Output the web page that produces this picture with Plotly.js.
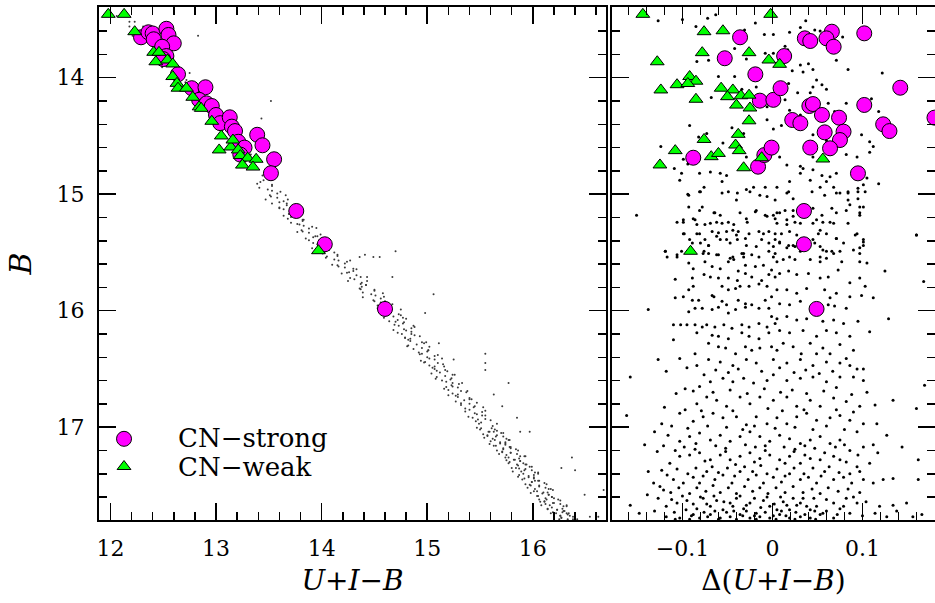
<!DOCTYPE html>
<html><head><meta charset="utf-8">
<script src="https://cdn.plot.ly/plotly-3.0.1.min.js"></script>
<style>html,body{margin:0;padding:0;background:#fff}#chart{width:935px;height:603px}</style>
</head><body><div id="chart"></div>
<script>
// ---- Left panel (CMD): CN-strong stars [U+I-B, B]
const cmdStrong = [[12.29,13.653],[12.36,13.61],[12.40,13.62],[12.41,13.67],[12.53,13.58],[12.55,13.633],[12.60,13.705],[12.49,13.734],[12.53,13.814],[12.50,13.84],[12.64,13.97],[12.77,14.09],[12.90,14.082],[12.84,14.19],[12.91,14.22],[12.96,14.243],[13.00,14.32],[13.04,14.39],[13.13,14.34],[13.15,14.42],[13.18,14.458],[13.39,14.49],[13.44,14.58],[13.21,14.55],[13.27,14.60],[13.23,14.66],[13.55,14.70],[13.52,14.82],[13.76,15.144],[14.03,15.43],[14.60,15.985]];
// CN-weak stars [U+I-B, B]
const cmdWeak = [[11.98,13.456],[12.13,13.456],[12.23,13.605],[12.41,13.782],[12.46,13.782],[12.43,13.863],[12.54,13.848],[12.59,13.882],[12.59,13.99],[12.63,14.048],[12.64,14.09],[12.72,14.09],[12.78,14.168],[12.84,14.25],[12.86,14.263],[12.96,14.374],[13.05,14.50],[13.03,14.62],[13.14,14.595],[13.21,14.62],[13.23,14.668],[13.30,14.69],[13.38,14.70],[13.25,14.75],[13.35,14.767],[13.97,15.485],[13.16,14.535]];
// field stars along the sequence [U+I-B, B]
const cmdField = [[12.06,13.47],[12.18,13.52],[12.18,13.56],[12.28,13.60],[12.21,13.64],[12.34,13.69],[12.42,13.73],[12.38,13.78],[12.45,13.82],[12.53,13.87],[12.49,13.91],[12.60,13.95],[12.61,14.00],[12.71,14.04],[12.65,14.09],[12.77,14.13],[12.87,14.18],[12.82,14.22],[12.90,14.27],[12.98,14.31],[12.94,14.36],[13.05,14.40],[13.06,14.45],[13.17,14.50],[13.11,14.55],[13.24,14.60],[13.33,14.66],[13.28,14.72],[13.36,14.78],[13.44,14.84],
[13.45,14.88],[13.39,14.91],[13.53,14.93],[13.49,14.96],[13.61,14.98],[13.51,15.01],[13.58,15.03],[13.64,15.06],[13.53,15.08],[13.71,15.11],[13.64,15.13],[13.71,15.16],[13.74,15.18],[13.68,15.21],[13.82,15.23],[13.79,15.26],[13.91,15.28],[13.81,15.31],[13.88,15.33],[13.96,15.36],[13.85,15.38],[14.03,15.41],[13.96,15.43],[14.04,15.46],[14.07,15.48],[14.01,15.51],[14.15,15.53],[14.12,15.56],[14.24,15.58],[14.15,15.61],[14.22,15.63],[14.30,15.66],[14.19,15.68],[14.37,15.71],[14.31,15.73],[14.38,15.76],[14.42,15.78],[14.36,15.81],[14.50,15.83],[14.47,15.86],[14.59,15.88],[14.49,15.91],[14.56,15.93],[14.64,15.96],[14.53,15.98],
[13.42,14.895],[13.53,14.92],[13.41,14.945],[13.53,14.97],[13.58,14.995],[13.52,15.02],[13.68,15.045],[13.60,15.07],[13.67,15.095],[13.60,15.12],[13.76,15.145],[13.69,15.17],[13.71,15.195],[13.82,15.22],[13.71,15.245],[13.83,15.27],[13.88,15.295],[13.82,15.32],[13.99,15.345],[13.92,15.37],[13.98,15.395],[13.92,15.42],[14.08,15.445],[14.02,15.47],[14.03,15.495],[14.15,15.52],[14.04,15.545],[14.16,15.57],[14.22,15.595],[14.16,15.62],[14.33,15.645],[14.26,15.67],[14.33,15.695],[14.27,15.72],[14.43,15.745],[14.37,15.77],[14.38,15.795],[14.50,15.82],[14.39,15.845],[14.51,15.87],[14.56,15.895],[14.50,15.92],[14.67,15.945],[14.60,15.97],[14.66,15.995],
[14.60,16.01],[14.73,16.03],[14.68,16.05],[14.80,16.07],[14.64,16.09],[14.77,16.11],[14.73,16.13],[14.85,16.15],[14.80,16.17],[14.72,16.19],[14.88,16.21],[14.79,16.23],[14.82,16.25],[14.95,16.27],[14.90,16.29],[15.02,16.31],[14.87,16.33],[15.00,16.35],[14.95,16.37],[15.07,16.39],[15.02,16.41],[14.94,16.43],[15.10,16.45],[15.02,16.47],[15.05,16.49],[15.17,16.51],[15.12,16.53],[15.24,16.55],[15.09,16.57],[15.22,16.59],[15.18,16.61],[15.30,16.63],[15.24,16.65],[15.16,16.67],[15.32,16.69],[15.24,16.71],[15.27,16.73],[15.40,16.75],[15.35,16.77],[15.47,16.79],[15.32,16.81],[15.44,16.83],[15.40,16.85],[15.52,16.87],[15.47,16.89],[15.39,16.91],[15.55,16.93],[15.46,16.95],[15.49,16.97],[15.62,16.99],
[14.62,16.02],[14.75,16.04],[14.59,16.06],[14.72,16.08],[14.78,16.10],[14.69,16.12],[14.88,16.14],[14.78,16.16],[14.85,16.18],[14.76,16.20],[14.93,16.22],[14.84,16.24],[14.84,16.26],[14.97,16.28],[14.82,16.30],[14.95,16.32],[15.01,16.34],[14.92,16.36],[15.10,16.38],[15.00,16.40],[15.07,16.42],[14.98,16.44],[15.15,16.46],[15.07,16.48],[15.07,16.50],[15.19,16.52],[15.04,16.54],[15.17,16.56],[15.23,16.58],[15.14,16.60],[15.33,16.62],[15.23,16.64],[15.29,16.66],[15.20,16.68],[15.37,16.70],[15.29,16.72],[15.29,16.74],[15.42,16.76],[15.27,16.78],[15.40,16.80],[15.45,16.82],[15.36,16.84],[15.55,16.86],[15.45,16.88],[15.52,16.90],[15.43,16.92],[15.60,16.94],[15.51,16.96],
[15.61,17.01],[15.50,17.02],[15.66,17.03],[15.59,17.04],[15.72,17.05],[15.57,17.07],[15.65,17.08],[15.54,17.09],[15.75,17.10],[15.64,17.11],[15.74,17.13],[15.69,17.14],[15.74,17.15],[15.63,17.16],[15.79,17.17],[15.72,17.19],[15.86,17.20],[15.71,17.21],[15.79,17.22],[15.68,17.23],[15.88,17.25],[15.77,17.26],[15.87,17.27],[15.82,17.28],[15.88,17.29],[15.77,17.31],[15.93,17.32],[15.86,17.33],[15.99,17.34],[15.84,17.35],[15.92,17.37],[15.81,17.38],[16.02,17.39],[15.91,17.40],[16.01,17.41],[15.96,17.43],[16.01,17.44],[15.90,17.45],[16.06,17.46],[15.99,17.47],[16.13,17.49],[15.98,17.50],[16.06,17.51],[15.95,17.52],[16.15,17.53],[16.04,17.55],[16.14,17.56],[16.09,17.57],[16.15,17.58],[16.04,17.59],[16.20,17.61],[16.13,17.62],[16.26,17.63],[16.11,17.64],[16.19,17.65],[16.08,17.67],[16.29,17.68],[16.18,17.69],[16.28,17.70],[16.23,17.71],[16.28,17.73],[16.17,17.74],[16.33,17.75],[16.26,17.76],[16.40,17.77],[16.25,17.79],[16.33,17.80],
[15.51,17.01],[15.64,17.02],[15.58,17.04],[15.70,17.05],[15.53,17.06],[15.66,17.07],[15.72,17.08],[15.62,17.10],[15.78,17.11],[15.60,17.12],[15.69,17.13],[15.74,17.14],[15.65,17.16],[15.78,17.17],[15.72,17.18],[15.84,17.19],[15.66,17.20],[15.79,17.22],[15.85,17.23],[15.75,17.24],[15.92,17.25],[15.74,17.26],[15.83,17.28],[15.88,17.29],[15.78,17.30],[15.91,17.31],[15.85,17.32],[15.97,17.34],[15.80,17.35],[15.93,17.36],[15.99,17.37],[15.89,17.38],[16.05,17.40],[15.87,17.41],[15.96,17.42],[16.01,17.43],[15.92,17.44],[16.05,17.46],[15.99,17.47],[16.11,17.48],[15.93,17.49],[16.06,17.50],[16.12,17.52],[16.02,17.53],[16.19,17.54],[16.01,17.55],[16.10,17.56],[16.15,17.58],[16.05,17.59],[16.18,17.60],[16.12,17.61],[16.24,17.62],[16.07,17.64],[16.20,17.65],[16.26,17.66],[16.16,17.67],[16.32,17.68],[16.14,17.70],[16.23,17.71],[16.29,17.72],[16.19,17.73],[16.32,17.74],[16.26,17.76],[16.38,17.77],[16.20,17.78],[16.33,17.79],
[13.66,15.01],[13.47,15.045],[13.67,15.08],[13.60,15.115],[13.81,15.15],[13.64,15.185],[13.83,15.22],[13.77,15.255],[13.95,15.29],[13.77,15.325],[13.94,15.36],[13.88,15.395],[14.09,15.43],[13.91,15.465],[14.12,15.50],[14.05,15.535],[14.27,15.57],[14.10,15.605],[14.30,15.64],[14.24,15.675],[14.43,15.71],[14.25,15.745],[14.42,15.78],[14.37,15.815],[14.58,15.85],[14.39,15.885],[14.60,15.92],[14.53,15.955],[14.75,15.99],[14.57,16.025],[14.77,16.06],[14.70,16.095],[14.87,16.13],[14.68,16.165],[14.85,16.20],[14.79,16.235],[14.99,16.27],[14.81,16.305],[15.01,16.34],[14.93,16.375],[15.14,16.41],[14.97,16.445],[15.16,16.48],[15.09,16.515],[15.26,16.55],[15.08,16.585],[15.24,16.62],[15.18,16.655],[15.38,16.69],[15.20,16.725],[15.40,16.76],[15.32,16.795],[15.53,16.83],[15.36,16.865],[15.55,16.90],[15.48,16.935],[15.66,16.97],[15.47,17.005],[15.63,17.04],[15.57,17.075],[15.77,17.11],[15.59,17.145],[15.79,17.18],[15.71,17.215],[15.93,17.25],[15.75,17.285],[15.94,17.32],[15.87,17.355],[16.05,17.39],[15.86,17.425],[16.02,17.46],[15.97,17.495],[16.17,17.53],[15.98,17.565],[16.18,17.60],[16.11,17.635],[16.32,17.67],[16.14,17.705],[16.34,17.74],[16.27,17.775],
[12.83,13.64],[13.52,14.20],[13.43,14.35],[14.70,15.49],[14.41,15.52],[14.49,15.54],[14.36,15.54],[14.55,15.54],[14.67,15.71],[15.06,15.86],[14.98,16.02],[15.11,16.28],[15.25,16.42],[15.55,16.37],[15.55,16.45],[15.55,16.51],[15.77,16.62],[15.63,16.72],[15.71,16.82],[15.88,17.04],[15.97,17.04],[15.85,16.92],[16.37,17.26],[16.40,17.37],[16.27,17.35],[16.49,17.58],[16.67,17.54],[16.54,17.77],[16.62,17.77],[12.23,13.52],[12.31,13.56],[12.75,13.96],[12.72,14.02],
[16.30,17.72],[16.35,17.76],[16.38,17.79],[16.42,17.79],[16.27,17.78],[16.22,17.74],[16.12,17.66],[16.06,17.62]];

// ---- Right panel: Delta(U+I-B) vs B
const deltaStrong = [[-0.036,13.653],[-0.053,13.833],[-0.019,13.971],[-0.014,14.197],[0.001,14.19],[-0.088,14.687],[-0.016,14.764],[-0.009,14.664],[-0.001,14.60],[0.013,13.814],[0.009,14.09],[0.036,13.662],[0.042,13.685],[0.066,13.605],[0.060,13.662],[0.068,13.734],[0.102,13.619],[0.142,14.086],[0.102,14.234],[0.180,14.343],[0.041,14.243],[0.045,14.226],[0.055,14.32],[0.074,14.343],[0.022,14.363],[0.031,14.391],[0.058,14.469],[0.079,14.463],[0.075,14.535],[0.042,14.60],[0.064,14.606],[0.123,14.40],[0.130,14.458],[0.095,14.821],[0.035,15.144],[0.035,15.43],[0.049,15.985]];
const deltaWeak = [[-0.144,13.456],[-0.002,13.456],[-0.076,13.605],[-0.055,13.597],[-0.078,13.785],[-0.128,13.863],[-0.026,13.785],[-0.004,13.848],[-0.092,13.99],[-0.106,14.06],[-0.085,14.03],[-0.094,14.05],[-0.124,14.105],[-0.085,14.185],[-0.057,14.09],[-0.044,14.105],[-0.050,14.163],[-0.035,14.155],[-0.026,14.15],[-0.040,14.235],[-0.025,14.26],[-0.026,14.37],[-0.038,14.486],[-0.076,14.53],[-0.108,14.626],[-0.041,14.578],[-0.037,14.626],[-0.068,14.678],[-0.060,14.65],[-0.125,14.749],[-0.032,14.773],[-0.012,14.687],[0.008,13.885],[0.056,14.698],[-0.091,15.49]];
const deltaField = [[-0.127,13.51],[-0.100,13.50],[-0.072,13.49],[-0.063,13.46],[-0.031,13.59],[-0.019,13.53],[-0.009,13.63],[0.001,13.63],[0.019,13.61],[0.031,13.57],[0.037,13.51],[0.047,13.59],[0.053,13.60],[0.078,13.65],[-0.085,13.56],[-0.042,13.75],[-0.029,13.84],[0.014,13.73],[0.017,13.76],[0.012,13.79],[-0.084,13.86],[-0.071,13.85],[-0.050,13.83],[-0.060,13.99],[-0.042,13.99],[-0.008,13.79],[0.001,13.79],[0.031,13.89],[0.022,13.94],[0.034,13.95],[0.045,13.93],[0.040,13.88],[0.049,14.02],[0.055,14.06],[0.060,14.10],[0.071,13.85],[0.084,13.93],[0.122,13.96],[-0.068,14.17],[-0.049,14.12],[-0.034,14.10],[-0.018,14.08],[-0.006,14.25],[0.001,14.16],[0.014,14.19],[0.028,14.13],[0.018,14.05],[0.042,14.13],[0.045,14.08],[0.051,14.22],[0.062,14.22],[0.069,14.29],[0.082,14.22],[0.110,14.18],[0.118,14.29],[0.099,14.49],[0.108,14.55],[0.112,14.59],[0.108,14.64],[0.082,14.66],[0.094,14.68],[-0.092,14.41],[-0.082,14.51],[-0.073,14.48],[-0.055,14.56],[-0.045,14.43],[-0.032,14.48],[-0.006,14.36],[0.001,14.44],[0.010,14.41],[0.019,14.28],[0.031,14.32],[0.038,14.56],[0.045,14.49],[0.053,14.44],[0.060,14.54],[0.068,14.56],[0.045,14.68],[-0.124,14.59],[-0.099,14.70],[-0.094,14.74],[-0.081,14.68],[-0.064,14.68],[-0.029,14.68],[0.008,14.68],[0.016,14.75],[0.031,14.76],[0.034,14.78],[0.045,14.79],[0.055,14.84],[0.064,14.85],[0.071,14.82],[-0.125,14.76],[-0.109,14.78],[-0.101,14.82],[-0.081,14.82],[-0.069,14.81],[-0.058,14.82],[-0.051,14.84],[-0.103,14.88],[-0.076,14.94],[-0.081,14.98],[-0.094,15.00],[-0.056,14.89],[-0.049,14.98],[-0.040,15.05],[-0.029,14.96],[-0.021,14.94],[-0.014,15.01],[-0.008,14.94],[0.005,14.94],[0.019,14.89],[0.016,14.99],[0.023,15.04],[0.031,14.82],[0.042,14.88],[0.053,14.94],[0.060,14.89],[0.068,14.94],[0.075,14.99],[0.084,14.98],[0.095,14.95],[0.101,14.92],[0.105,14.86],[0.118,14.91],[0.095,15.04],[0.084,15.05],
[-0.151,15.18],[-0.106,15.24],[-0.099,15.22],[-0.088,15.21],[-0.084,15.26],[-0.064,15.16],[-0.056,15.25],[-0.044,15.31],[-0.036,15.16],[-0.029,15.21],[-0.018,15.14],[-0.006,15.19],[0.001,15.18],[0.008,15.16],[0.016,15.22],[0.023,15.19],[0.031,15.25],[0.038,15.16],[0.049,15.22],[0.053,15.31],[0.064,15.24],[0.071,15.16],[0.082,15.14],[0.097,15.16],[0.101,15.11],[-0.099,15.34],[-0.092,15.39],[-0.081,15.34],[-0.071,15.44],[-0.062,15.36],[-0.051,15.39],[-0.040,15.35],[-0.029,15.44],[-0.018,15.45],[-0.010,15.34],[0.001,15.45],[0.008,15.41],[0.016,15.46],[0.023,15.44],[0.031,15.49],[0.045,15.39],[0.053,15.45],[0.060,15.49],[0.071,15.38],[0.079,15.42],[0.094,15.34],[0.101,15.41],[0.160,15.35],[-0.119,15.49],[-0.106,15.52],[-0.077,15.51],[-0.062,15.52],[-0.044,15.54],[-0.032,15.51],[0.001,15.54],[0.019,15.54],[0.053,15.54],[0.068,15.51],[0.097,15.46],
[-0.093,15.01],[-0.080,14.98],[-0.056,14.99],[-0.039,14.99],[-0.025,14.98],[-0.006,15.02],[-0.093,15.11],[-0.081,15.14],[-0.078,15.11],[-0.065,15.16],[-0.058,15.18],[-0.099,15.24],[-0.086,15.22],[-0.075,15.26],[-0.069,15.25],[-0.062,15.24],[-0.049,15.24],[-0.043,15.26],[-0.028,15.24],[-0.019,15.15],[-0.008,15.18],[0.003,15.21],[-0.098,15.34],[-0.084,15.34],[-0.067,15.32],[-0.060,15.33],[-0.051,15.32],[-0.038,15.32],[-0.026,15.34],[-0.015,15.32],[-0.004,15.32],[0.003,15.34],[-0.089,15.42],[-0.080,15.42],[-0.075,15.39],[-0.071,15.44],[-0.058,15.39],[-0.047,15.42],[-0.039,15.39],[-0.030,15.38],[-0.012,15.39],[-0.004,15.42],[0.003,15.39],[-0.119,15.49],[-0.117,15.54],[-0.106,15.54],[-0.101,15.49],[-0.076,15.49],[-0.071,15.51],[-0.060,15.52],[-0.047,15.55],[-0.034,15.51],[-0.032,15.54],[-0.023,15.52],[-0.015,15.54],[-0.004,15.49],[0.003,15.51],
[-0.093,15.59],[-0.088,15.64],[-0.075,15.58],[-0.067,15.62],[-0.058,15.64],[-0.049,15.58],[-0.043,15.56],[-0.038,15.66],[-0.030,15.61],[-0.019,15.62],[-0.010,15.61],[-0.001,15.65],[-0.108,15.73],[-0.089,15.72],[-0.076,15.69],[-0.069,15.71],[-0.060,15.72],[-0.049,15.72],[-0.039,15.74],[-0.030,15.68],[-0.023,15.71],[-0.012,15.74],[-0.004,15.69],[0.003,15.71],[-0.093,15.82],[-0.088,15.79],[-0.067,15.87],[-0.056,15.79],[-0.049,15.82],[-0.041,15.81],[-0.036,15.79],[-0.026,15.79],[-0.015,15.77],[-0.006,15.79],[-0.108,15.89],[-0.099,15.88],[-0.089,15.91],[-0.082,15.91],[-0.065,15.88],[-0.056,15.92],[-0.051,15.95],[-0.038,15.91],[-0.030,15.94],[-0.023,15.95],[-0.008,15.91],[-0.001,15.88],[-0.138,15.99],[-0.093,16.01],[-0.086,15.98],[-0.078,15.98],[-0.067,15.99],[-0.060,15.97],[-0.049,16.02],[-0.041,15.99],[-0.030,15.97],[-0.015,15.98],[-0.004,15.98],[-0.001,16.05],[-0.110,16.12],[-0.102,16.12],[-0.095,16.12],[-0.086,16.12],[-0.078,16.14],[-0.073,16.12],[-0.064,16.14],[-0.054,16.12],[-0.045,16.15],[-0.034,16.12],[-0.026,16.14],[-0.015,16.11],[-0.006,16.14],[0.003,16.11],[-0.110,16.25],[-0.084,16.19],[-0.067,16.21],[-0.060,16.22],[-0.049,16.24],[-0.034,16.19],[-0.026,16.22],[-0.015,16.24],[-0.004,16.19],[-0.086,16.37],[-0.071,16.28],[-0.060,16.31],[-0.052,16.32],[-0.041,16.37],[-0.030,16.31],[-0.023,16.34],[-0.014,16.32],[-0.001,16.31],
[0.003,15.05],[0.018,14.98],[0.044,14.98],[0.058,15.01],[0.071,14.99],[0.084,14.99],[0.095,14.98],[0.103,14.98],[0.005,15.16],[0.014,15.14],[0.023,15.14],[0.045,15.12],[0.055,15.18],[0.066,15.12],[0.086,15.09],[0.097,15.11],[0.097,15.18],[0.005,15.25],[0.016,15.26],[0.025,15.24],[0.045,15.25],[0.056,15.24],[0.068,15.25],[0.084,15.25],[0.010,15.34],[0.019,15.32],[0.027,15.35],[0.051,15.34],[0.060,15.34],[0.071,15.38],[0.092,15.35],[0.101,15.39],[0.008,15.42],[0.018,15.44],[0.025,15.45],[0.047,15.42],[0.056,15.48],[0.066,15.49],[0.075,15.49],[0.090,15.48],[0.097,15.51],[0.101,15.44],[0.125,15.66],[0.160,15.35],[0.168,15.75],[0.005,15.58],[0.012,15.56],[0.025,15.56],[0.042,15.56],[0.053,15.58],[0.060,15.55],[0.077,15.58],[0.097,15.58],[0.105,15.59],[0.008,15.68],[0.018,15.66],[0.027,15.69],[0.040,15.68],[0.053,15.72],[0.062,15.71],[0.073,15.65],[0.086,15.76],[0.097,15.72],[0.103,15.79],[0.005,15.82],[0.016,15.82],[0.027,15.85],[0.038,15.81],[0.058,15.82],[0.064,15.89],[0.071,15.85],[0.086,15.88],[0.099,15.87],[0.112,15.89],[0.008,15.94],[0.019,15.95],[0.031,15.92],[0.045,15.95],[0.062,15.95],[0.069,15.96],[0.082,15.98],[0.129,16.07],[0.095,16.09],[0.108,16.18],[0.005,16.07],[0.016,16.05],[0.027,16.08],[0.038,16.07],[0.056,16.09],[0.068,16.08],[0.079,16.11],[0.008,16.17],[0.019,16.19],[0.034,16.17],[0.049,16.22],[0.060,16.17],[0.071,16.19],[0.086,16.22],[0.012,16.28],[0.023,16.31],[0.042,16.28],[0.056,16.32],[0.075,16.29],[0.090,16.34],[0.005,16.34],[0.032,16.37],[0.049,16.37],[0.064,16.37],
[-0.127,16.42],[-0.103,16.41],[-0.084,16.47],[-0.071,16.42],[-0.058,16.44],[-0.044,16.47],[-0.029,16.42],[-0.018,16.45],[0.001,16.42],[0.016,16.45],[0.031,16.42],[0.045,16.47],[0.060,16.44],[0.075,16.45],[0.082,16.41],[0.094,16.50],[0.101,16.50],[-0.158,16.57],[-0.097,16.67],[-0.081,16.65],[-0.069,16.61],[-0.055,16.58],[-0.044,16.61],[-0.032,16.58],[-0.021,16.62],[-0.006,16.60],[0.001,16.55],[0.016,16.60],[0.031,16.58],[0.045,16.57],[0.060,16.61],[0.075,16.57],[0.090,16.57],[0.101,16.60],[0.169,16.64],[-0.084,16.80],[-0.073,16.74],[-0.062,16.77],[-0.051,16.82],[-0.036,16.74],[-0.025,16.80],[-0.014,16.74],[0.001,16.77],[0.016,16.74],[0.027,16.82],[0.042,16.77],[0.053,16.82],[0.068,16.75],[0.082,16.78],[0.097,16.82],[0.114,16.81],[0.134,16.77],[0.160,16.84],[-0.162,16.90],[-0.123,16.97],[-0.103,16.88],[-0.088,16.95],[-0.077,16.91],[-0.066,16.88],[-0.055,16.92],[-0.040,16.91],[-0.029,16.98],[-0.018,16.91],[-0.006,16.97],[0.005,16.92],[0.016,16.97],[0.027,16.91],[0.038,16.88],[0.049,16.94],[0.064,16.92],[0.075,16.90],[0.086,16.94],[0.101,16.97],[0.116,16.97],[0.127,17.07],[0.144,17.17],
[-0.118,16.52],[-0.095,16.49],[-0.076,16.55],[-0.063,16.51],[-0.049,16.53],[-0.038,16.50],[-0.012,16.52],[0.008,16.49],[0.024,16.53],[0.037,16.51],[0.052,16.54],[0.067,16.52],[0.086,16.47],[-0.107,16.71],[-0.088,16.69],[-0.066,16.70],[-0.047,16.68],[-0.028,16.71],[-0.009,16.67],[0.009,16.70],[0.022,16.68],[0.038,16.71],[0.057,16.69],[0.071,16.66],[0.088,16.72],[0.105,16.70],[-0.120,16.83],[-0.097,16.85],[-0.079,16.86],[-0.044,16.86],[-0.005,16.84],[0.011,16.86],[0.035,16.85],[0.071,16.85],[0.090,16.87],
[-0.131,17.04],[-0.116,17.07],[-0.103,17.12],[-0.092,17.08],[-0.081,17.05],[-0.069,17.11],[-0.058,17.07],[-0.047,17.12],[-0.036,17.08],[-0.025,17.04],[-0.014,17.08],[-0.003,17.12],[0.008,17.07],[0.019,17.10],[0.031,17.14],[0.042,17.11],[0.053,17.08],[0.064,17.14],[0.075,17.11],[0.086,17.20],[0.101,17.17],[0.112,17.15],[-0.138,17.38],[-0.123,17.37],[-0.114,17.31],[-0.103,17.25],[-0.092,17.24],[-0.081,17.22],[-0.069,17.28],[-0.058,17.24],[-0.047,17.28],[-0.036,17.25],[-0.025,17.22],[-0.014,17.27],[-0.003,17.24],[0.008,17.28],[0.019,17.25],[0.031,17.31],[0.042,17.27],[0.053,17.28],[0.068,17.25],[0.082,17.30],[0.094,17.34],[0.108,17.31],[0.123,17.45],[0.134,17.44],[0.162,17.28],[0.162,17.45],
[-0.112,16.99],[-0.094,17.01],[-0.072,16.99],[-0.051,17.00],[-0.033,17.02],[-0.020,16.99],[0.003,17.01],[0.025,17.00],[0.045,17.02],[0.060,16.99],[0.080,17.02],[0.094,17.04],[-0.142,17.15],[-0.121,17.16],[-0.098,17.17],[-0.085,17.14],[-0.063,17.16],[-0.052,17.18],[-0.030,17.15],[-0.019,17.17],[-0.008,17.16],[0.013,17.17],[0.025,17.19],[0.036,17.16],[0.047,17.18],[0.070,17.17],[0.080,17.15],[0.095,17.24],[-0.128,17.21],[-0.108,17.20],[-0.086,17.19],[-0.075,17.29],[-0.052,17.21],[-0.041,17.32],[-0.020,17.30],[-0.008,17.20],[0.014,17.31],[0.024,17.21],[0.036,17.24],[0.058,17.22],[0.075,17.28],[0.117,17.22],
[-0.132,17.48],[-0.121,17.54],[-0.110,17.45],[-0.099,17.48],[-0.088,17.43],[-0.081,17.48],[-0.073,17.38],[-0.064,17.45],[-0.055,17.41],[-0.045,17.48],[-0.036,17.38],[-0.027,17.45],[-0.018,17.41],[-0.010,17.48],[0.001,17.43],[0.010,17.47],[0.019,17.40],[0.031,17.45],[0.040,17.43],[0.049,17.48],[0.058,17.38],[0.068,17.45],[0.079,17.43],[0.088,17.48],[0.101,17.45],[0.112,17.48],[-0.127,17.61],[-0.118,17.68],[-0.106,17.65],[-0.095,17.63],[-0.084,17.70],[-0.077,17.61],[-0.069,17.68],[-0.062,17.63],[-0.055,17.71],[-0.047,17.65],[-0.040,17.61],[-0.032,17.70],[-0.025,17.65],[-0.018,17.74],[-0.010,17.63],[-0.003,17.68],[0.005,17.71],[0.012,17.64],[0.019,17.71],[0.027,17.67],[0.034,17.61],[0.042,17.71],[0.049,17.68],[0.056,17.74],[0.068,17.65],[0.075,17.70],[0.082,17.61],[0.094,17.65],[-0.158,17.67],[0.119,17.68],[0.134,17.67],[0.149,17.65],[-0.118,17.77],[-0.103,17.78],[-0.088,17.75],[-0.081,17.78],[-0.069,17.75],[-0.058,17.78],[-0.047,17.77],[-0.036,17.75],[-0.025,17.78],[-0.014,17.77],[-0.003,17.78],[0.008,17.75],[0.019,17.78],[0.031,17.77],[0.042,17.78],[0.053,17.75],[0.068,17.78],[0.156,17.77],[0.166,17.75],[0.127,17.77],
[-0.117,17.41],[-0.106,17.36],[-0.094,17.40],[-0.085,17.35],[-0.077,17.42],[-0.067,17.34],[-0.060,17.39],[-0.050,17.35],[-0.042,17.42],[-0.031,17.34],[-0.022,17.38],[-0.013,17.33],[-0.006,17.40],[0.005,17.36],[0.014,17.42],[0.024,17.35],[0.035,17.40],[0.045,17.35],[0.054,17.42],[0.063,17.34],[0.074,17.39],[0.086,17.40],[0.097,17.38],[-0.125,17.51],[-0.113,17.56],[-0.104,17.52],[-0.092,17.57],[-0.084,17.52],[-0.074,17.55],[-0.066,17.50],[-0.058,17.56],[-0.049,17.52],[-0.040,17.57],[-0.031,17.51],[-0.022,17.55],[-0.014,17.52],[-0.005,17.57],[0.004,17.52],[0.014,17.56],[0.023,17.51],[0.034,17.56],[0.044,17.53],[0.053,17.57],[0.062,17.52],[0.073,17.55],[0.084,17.53],[0.097,17.56],[-0.139,17.58],[-0.112,17.62],[-0.100,17.59],[-0.088,17.66],[-0.080,17.60],[-0.073,17.66],[-0.065,17.59],[-0.054,17.64],[-0.044,17.68],[-0.036,17.59],[-0.029,17.67],[-0.020,17.61],[-0.013,17.69],[-0.006,17.60],[0.002,17.66],[0.009,17.60],[0.016,17.67],[0.023,17.61],[0.031,17.65],[0.038,17.68],[0.046,17.61],[0.060,17.62],[0.079,17.68],[0.090,17.60],[0.104,17.64],[-0.131,17.72],[-0.109,17.73],[-0.096,17.71],[-0.090,17.76],[-0.076,17.73],[-0.072,17.77],[-0.064,17.72],[-0.051,17.73],[-0.043,17.72],[-0.033,17.76],[-0.029,17.72],[-0.020,17.76],[-0.008,17.73],[0.001,17.76],[0.010,17.72],[0.015,17.76],[0.026,17.73],[0.036,17.75],[0.047,17.72],[0.060,17.72],[0.072,17.75],[0.086,17.74],[0.100,17.76],[0.114,17.74],[-0.148,17.74],[0.138,17.72],[-0.108,17.79],[-0.092,17.79],[-0.060,17.79],[-0.040,17.79],[-0.018,17.79],[0.004,17.79],[0.025,17.79],[0.048,17.79]];

const legendNames = ['CN\u2212strong', 'CN\u2212weak'];
const colStrong = '#ff00ff', colWeak = '#00ff00';

const serif = '"DejaVu Serif", "Liberation Serif", serif';
const xs = a => a.map(p => p[0]);
const ys = a => a.map(p => p[1]);

const strongMarker = {symbol:'circle', size:15, color:colStrong, line:{color:'#000', width:1}};
const weakMarker = {symbol:'triangle-up', size:12, color:colWeak, line:{color:'#000', width:1}};

const traces = [
  {type:'scatter', mode:'markers', x:xs(cmdField), y:ys(cmdField), xaxis:'x', yaxis:'y',
   marker:{size:2, color:'#3a3a3a'}, showlegend:false, hoverinfo:'skip'},
  {type:'scatter', mode:'markers', x:xs(deltaField), y:ys(deltaField), xaxis:'x2', yaxis:'y2',
   marker:{size:3, color:'#000'}, showlegend:false, hoverinfo:'skip'},
  {type:'scatter', mode:'markers', name:' ', x:xs(cmdStrong), y:ys(cmdStrong), xaxis:'x', yaxis:'y', marker:strongMarker},
  {type:'scatter', mode:'markers', name:legendNames[0], showlegend:false, x:xs(deltaStrong), y:ys(deltaStrong), xaxis:'x2', yaxis:'y2', marker:strongMarker},
  {type:'scatter', mode:'markers', name:' ', x:xs(cmdWeak), y:ys(cmdWeak), xaxis:'x', yaxis:'y', marker:weakMarker},
  {type:'scatter', mode:'markers', name:legendNames[1], showlegend:false, x:xs(deltaWeak), y:ys(deltaWeak), xaxis:'x2', yaxis:'y2', marker:weakMarker}
];

const tickfont = {family:serif, size:22, color:'#000'};
const axBase = {ticks:'inside', ticklen:17, tickwidth:1.5, tickcolor:'#000', showline:true, linewidth:2, linecolor:'#000',
  mirror:'ticks', showgrid:false, zeroline:false, tickfont:tickfont, ticklabelstandoff:8};
const minorX = {ticks:'inside', ticklen:8, tickwidth:1.5, tickcolor:'#000', showgrid:false};

const legendFont = {family:serif, size:26, color:'#000'};
const layout = {
  width:935, height:603,
  margin:{l:99, r:0, t:7, b:83},
  paper_bgcolor:'#fff', plot_bgcolor:'#fff',
  showlegend:true,
  legend:{x:0.006, y:0.195, xanchor:'left', yanchor:'top', font:{family:serif, size:19, color:'#000'},
    bgcolor:'rgba(0,0,0,0)', itemwidth:30, tracegroupgap:0},
  annotations:[
    {xref:'paper', yref:'paper', x:0.0921, y:0.1598, xanchor:'left', yanchor:'middle', showarrow:false, text:legendNames[0], font:legendFont},
    {xref:'paper', yref:'paper', x:0.0921, y:0.1033, xanchor:'left', yanchor:'middle', showarrow:false, text:legendNames[1], font:legendFont}
  ],
  xaxis: Object.assign({}, axBase, {domain:[0, 0.6065], anchor:'y', range:[11.892, 16.693], tick0:0, dtick:1,
    minor:Object.assign({dtick:0.2}, minorX),
    title:{text:'<i>U</i>+<i>I</i>\u2212<i>B</i>', font:{family:serif, size:28, color:'#000'}, standoff:10}}),
  yaxis: Object.assign({}, axBase, {domain:[0,1], anchor:'x', range:[17.797, 13.393], autorange:false, tick0:0, dtick:1,
    minor:Object.assign({dtick:0.2}, minorX),
    title:{text:'<i>B</i>', font:{family:serif, size:30, color:'#000'}, standoff:16}}),
  xaxis2: Object.assign({}, axBase, {domain:[0.6136, 1], anchor:'y2', range:[-0.1783, 0.1806], tick0:0, dtick:0.1,
    minor:Object.assign({dtick:0.02}, minorX),
    title:{text:'\u0394(<i>U</i>+<i>I</i>\u2212<i>B</i>)', font:{family:serif, size:28, color:'#000'}, standoff:10}}),
  yaxis2: Object.assign({}, axBase, {domain:[0,1], anchor:'x2', matches:'y', range:[17.797, 13.393], autorange:false, tick0:0, dtick:1,
    showticklabels:false, minor:Object.assign({dtick:0.2}, minorX)})
};

Plotly.newPlot('chart', traces, layout, {staticPlot:true, displayModeBar:false});
</script></body></html>
